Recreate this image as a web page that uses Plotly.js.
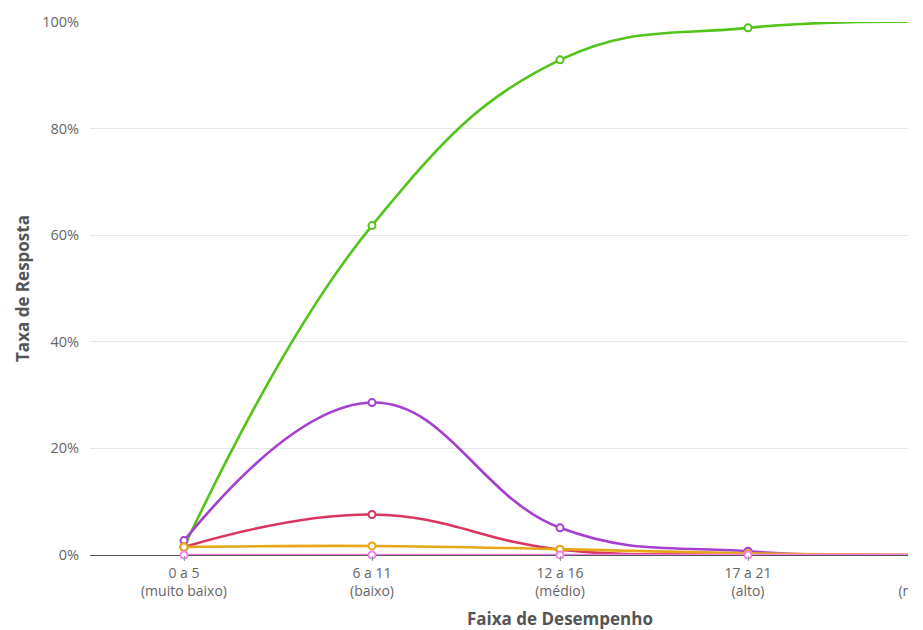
<!DOCTYPE html>
<html>
<head>
<meta charset="utf-8">
<script src="https://cdn.plot.ly/plotly-3.0.1.min.js"></script>
<style>
  html, body { margin:0; padding:0; background:#fff; }
  #wrap { width:908px; height:630px; overflow:hidden; }
  #chart { width:1100px; height:630px; }
</style>
</head>
<body>
<div id="wrap"><div id="chart"></div></div>
<script>
const categories = ["0 a 5<br>(muito baixo)", "6 a 11<br>(baixo)", "12 a 16<br>(médio)", "17 a 21<br>(alto)", "22 a 26<br>(muito alto)"];
const seriesNames = ["A", "B", "C", "D", "E"];
const serieA = [1.5, 61.8, 92.9, 98.9, 100];
const serieB = [2.7, 28.6, 5.1, 0.7, 0];
const serieC = [1.5, 7.6, 1.0, 0.2, 0];
const serieD = [1.5, 1.7, 1.1, 0.3, 0];
const serieE = [0, 0, 0, 0, 0];
const colors = ["#52c41a", "#a43fcf", "#d8365d", "#e6a816", "#f27ff0"];

const allSeries = [serieA, serieB, serieC, serieD, serieE];
const traces = allSeries.map((vals, i) => ({
  type: "scatter",
  mode: "lines+markers",
  name: seriesNames[i],
  x: categories,
  y: vals.map(v => v / 100),
  line: { color: colors[i], width: 2.6, shape: "spline", smoothing: 1.2 },
  marker: { symbol: "circle", size: 7, color: "#ffffff", line: { color: colors[i], width: 2 } },
  cliponaxis: false
}));

const layout = {
  width: 1100,
  height: 630,
  margin: { l: 90, r: 70, t: 22, b: 75 },
  paper_bgcolor: "#ffffff",
  plot_bgcolor: "#ffffff",
  showlegend: false,
  font: { family: "Open Sans, sans-serif", color: "#666666", size: 14 },
  xaxis: {
    type: "category",
    range: [-0.5, 4.5],
    showgrid: false,
    zeroline: false,
    showline: false,
    ticks: "outside",
    ticklen: 5,
    tickcolor: "#999999",
    tickfont: { size: 14, color: "#666666" },
    title: { text: "Faixa de Desempenho", font: { size: 17, color: "#555555", family: "Open Sans, sans-serif", weight: "bold" }, standoff: 14 }
  },
  yaxis: {
    range: [0, 1],
    tickvals: [0, 0.2, 0.4, 0.6, 0.8, 1],
    ticktext: ["0%", "20%", "40%", "60%", "80%", "100%"],
    showgrid: true,
    gridcolor: "#e3e7f0",
    gridwidth: 1,
    zeroline: true,
    zerolinecolor: "#555555",
    zerolinewidth: 1,
    showline: false,
    ticks: "",
    ticklabelstandoff: 10,
    tickfont: { size: 14.5, color: "#666666" },
    title: { text: "Taxa de Resposta", font: { size: 17, color: "#555555", family: "Open Sans, sans-serif", weight: "bold" }, standoff: 8 }
  }
};

Plotly.newPlot("chart", traces, layout, { displayModeBar: false, staticPlot: true });
</script>
</body>
</html>
